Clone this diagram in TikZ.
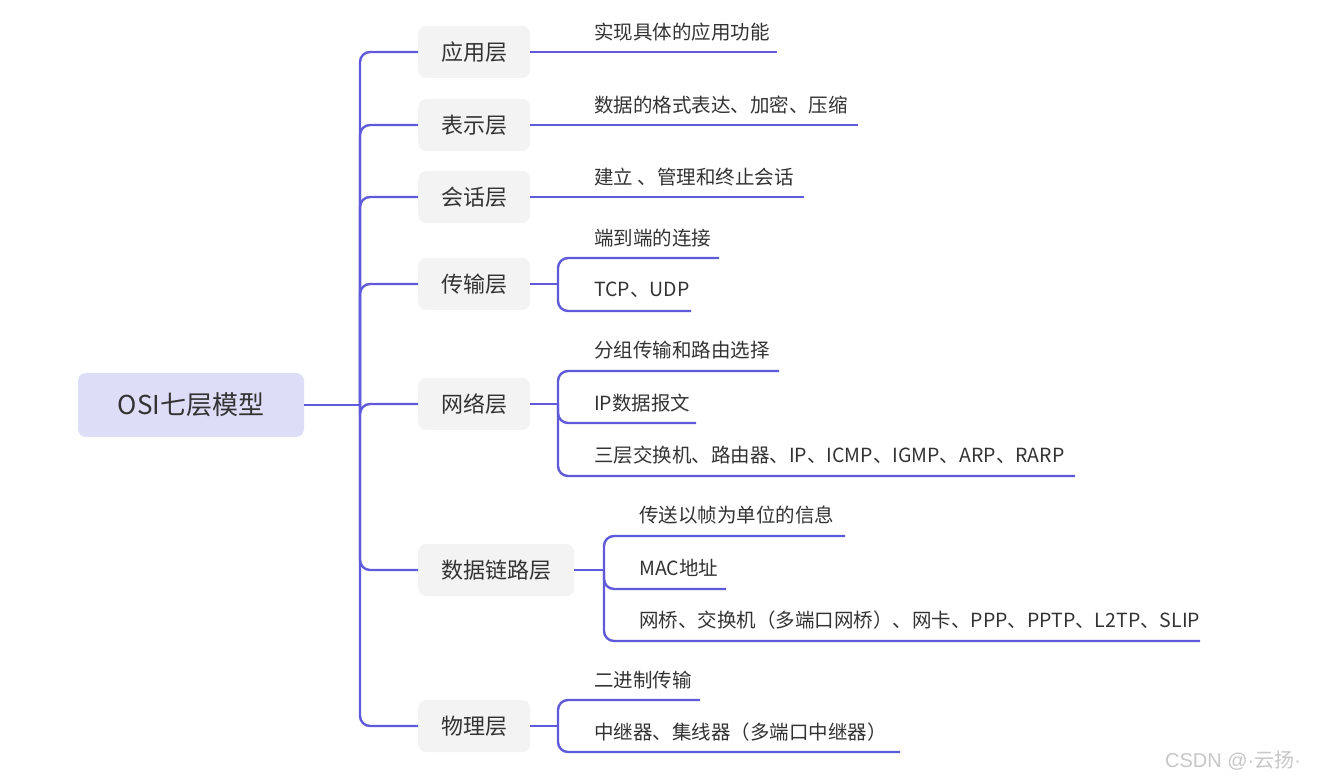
\documentclass[tikz,border=0pt]{standalone}
\usepackage{fontspec}
\setmainfont{Noto Sans CJK SC}
\newfontfamily\libsans{Liberation Sans}
\definecolor{lineC}{RGB}{94,90,218}
\definecolor{rootC}{RGB}{222,221,247}
\definecolor{nodeC}{RGB}{243,243,243}
\definecolor{txt}{RGB}{51,51,51}
\begin{document}
\begin{tikzpicture}[x=1pt,y=-1pt,
  conn/.style={draw=lineC, line width=2.4pt, rounded corners=10pt},
  rootbox/.style={fill=rootC, rounded corners=8pt, minimum width=226pt, minimum height=64pt, font=\fontsize{26}{30}\selectfont, text=txt},
  layer/.style={fill=nodeC, rounded corners=8pt, minimum height=52pt, inner xsep=23pt, anchor=west, font=\fontsize{22}{26}\selectfont, text=txt},
  leaf/.style={anchor=west, inner sep=0pt, font=\fontsize{19.5}{23}\selectfont, text=txt}]
\fill[white] (0,0) rectangle (1318,783);
\useasboundingbox (0,0) rectangle (1318,783);

\node[rootbox] (root) at (191,405) {OSI七层模型};
\node[layer] (app) at (418,52) {应用层};
\node[layer] (pre) at (418,125) {表示层};
\node[layer] (ses) at (418,197) {会话层};
\node[layer] (tra) at (418,284) {传输层};
\node[layer] (net) at (418,404) {网络层};
\node[layer] (dl) at (418,570) {数据链路层};
\node[layer] (phy) at (418,726) {物理层};

\coordinate (trunk) at (360,405);
\draw[conn] (root.east) -- (trunk);
\foreach \n in {app,pre,ses,tra,net,dl,phy} \draw[conn] (trunk) |- (\n.west);

% application
\node[leaf] (a1) at (594,32) {实现具体的应用功能};
\coordinate (a1e) at (777,52);
\draw[conn] (app.east) -- (a1e);
% presentation
\node[leaf] (p1) at (594,105) {数据的格式表达、加密、压缩};
\coordinate (p1e) at (858,125);
\draw[conn] (pre.east) -- (p1e);
% session
\node[leaf] (s1) at (594,177) {建立 、管理和终止会话};
\coordinate (s1e) at (804,197);
\draw[conn] (ses.east) -- (s1e);
% transport
\coordinate (tb) at (558,284);
\draw[conn] (tra.east) -- (tb);
\node[leaf] (t1) at (594,238) {端到端的连接};
\node[leaf] (t2) at (594,290) {TCP、UDP};
\coordinate (t1e) at (719,258);
\coordinate (t2e) at (691,311);
\draw[conn] (tb) |- (t1e);
\draw[conn] (tb) |- (t2e);
% network
\coordinate (nb) at (558,404);
\draw[conn] (net.east) -- (nb);
\node[leaf] (n1) at (594,350) {分组传输和路由选择};
\node[leaf] (n2) at (594,403) {IP数据报文};
\node[leaf] (n3) at (594,455) {三层交换机、路由器、IP、ICMP、IGMP、ARP、RARP};
\coordinate (n1e) at (779,371);
\coordinate (n2e) at (696,423);
\coordinate (n3e) at (1075,476);
\draw[conn] (nb) |- (n1e);
\draw[conn] (nb) |- (n2e);
\draw[conn] (nb) |- (n3e);
% data link
\coordinate (db) at (604,570);
\draw[conn] (dl.east) -- (db);
\node[leaf] (d1) at (639,515) {传送以帧为单位的信息};
\node[leaf] (d2) at (639,568) {MAC地址};
\node[leaf] (d3) at (639,620) {网桥、交换机（多端口网桥）、网卡、PPP、PPTP、L2TP、SLIP};
\coordinate (d1e) at (845,536);
\coordinate (d2e) at (726,589);
\coordinate (d3e) at (1200,641);
\draw[conn] (db) |- (d1e);
\draw[conn] (db) |- (d2e);
\draw[conn] (db) |- (d3e);
% physical
\coordinate (pb) at (558,726);
\draw[conn] (phy.east) -- (pb);
\node[leaf] (h1) at (594,680) {二进制传输};
\node[leaf] (h2) at (594,732) {中继器、集线器（多端口中继器）};
\coordinate (h1e) at (700,700);
\coordinate (h2e) at (900,752);
\draw[conn] (pb) |- (h1e);
\draw[conn] (pb) |- (h2e);

\node[font=\fontsize{20}{24}\selectfont, text=black!22] (wm) at (1233,760) {{\libsans CSDN @·}云扬{\libsans ·}};
\end{tikzpicture}
\end{document}
